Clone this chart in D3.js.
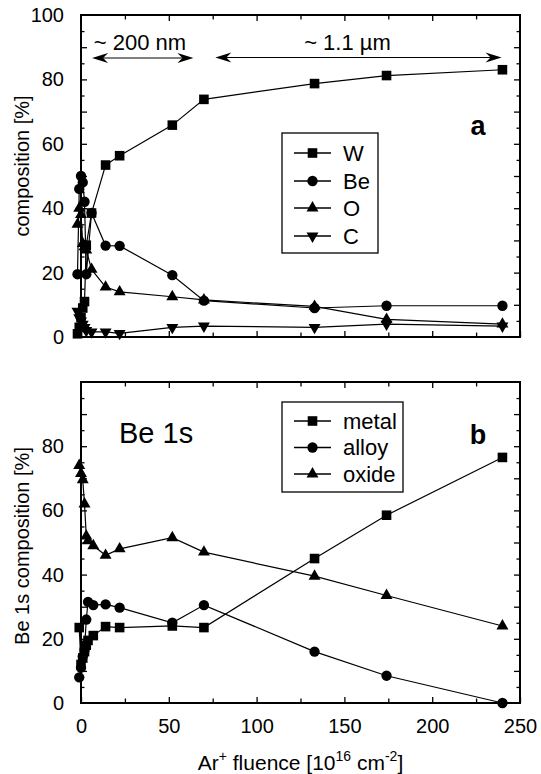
<!DOCTYPE html>
<html><head><meta charset="utf-8">
<script src="https://cdn.jsdelivr.net/npm/d3@7"></script>
<style>
body{margin:0;background:#fff}
text{font-family:"Liberation Sans",Arial,Helvetica,sans-serif;fill:#000}
</style>
</head><body>
<svg id="c" width="541" height="774"></svg>
<script>
// ---------- data ----------
const fluenceA = [-2, -1, 0, 1, 2, 3, 6, 14, 22, 52, 70, 133, 174, 240];
const W  = [1, 3, 6, 9, 11, 28.5, 38.5, 53.4, 56.3, 65.8, 73.8, 78.7, 81.2, 83];
const Be = [19.5, 46, 50, 48, 42, 19.5, 38.5, 28.4, 28.3, 19.2, 11.3, 9, 9.7, 9.7];
const O  = [35, 40, 38, 29, 28, 27, 21, 15.5, 14, 12.5, 11.5, 9.5, 5.5, 4];
const C  = [8, 6, 5, 4, 3, 2, 1.6, 1.6, 1.1, 3, 3.4, 3, 4, 3.4];

const fluenceB = [-1, 0, 1, 2, 3, 4, 7, 14, 22, 52, 70, 133, 174, 240];
const metal = [23.5, 12, 14, 16, 18, 19.5, 21, 23.8, 23.5, 24, 23.5, 45, 58.5, 76.5];
const alloy = [8, 11, 14.5, 16.5, 26, 31.5, 30.5, 30.7, 29.7, 25, 30.5, 16, 8.5, 0];
const oxide = [74, 71.5, 69.5, 62, 52, 50.5, 49, 46, 48, 51.5, 47, 39.5, 33.5, 24];

const xTicksMajor = [0, 50, 100, 150, 200, 250];
const xTicksMinor = [25, 75, 125, 175, 225];
const yLabelsA = [0, 20, 40, 60, 80, 100];
const yLabelsB = [0, 20, 40, 60, 80];
const legendA = ["W", "Be", "O", "C"];
const legendB = ["metal", "alloy", "oxide"];

// ---------- layout ----------
const svg = d3.select("#c");
const X0 = 81, X1 = 520;
const x = d3.scaleLinear().domain([0, 250]).range([X0, X1]);
const yA = d3.scaleLinear().domain([0, 100]).range([337, 15]);
const yB = d3.scaleLinear().domain([0, 100]).range([703, 382]);
const FONT = '"Liberation Sans",Arial,Helvetica,sans-serif';

const sym = {
  square: d3.symbol().type(d3.symbolSquare).size(92),
  circle: d3.symbol().type(d3.symbolCircle).size(84),
  tri: d3.symbol().type(d3.symbolTriangle).size(62),
};
function drawMarker(g, kind, cx, cy) {
  if (kind === "down") {
    g.append("path").attr("d", sym.tri()).attr("transform", `translate(${cx},${cy}) rotate(180)`).attr("fill", "#000");
  } else {
    const s = kind === "up" ? sym.tri : sym[kind];
    g.append("path").attr("d", s()).attr("transform", `translate(${cx},${cy})`).attr("fill", "#000");
  }
}

function panel(y, yLabels, showXLabels) {
  const g = svg.append("g");
  const [yb, yt] = y.range();
  const addX = (pos, axisFn, vals, len, labels) => {
    const a = axisFn(x).tickValues(vals).tickSize(-len).tickPadding(16)
      .tickFormat(labels ? d3.format("d") : "");
    const gg = g.append("g").attr("transform", `translate(0,${pos})`).call(a);
    gg.select(".domain").remove();
    gg.selectAll("line").attr("stroke", "#000").attr("stroke-width", 1.3);
    gg.selectAll("text").attr("font-size", 20).style("font-family", FONT);
  };
  addX(yb, d3.axisBottom, xTicksMajor, 6, showXLabels);
  addX(yb, d3.axisBottom, xTicksMinor, 4.5, false);
  addX(yt, d3.axisTop, xTicksMajor.slice(1, -1), 6, false);
  addX(yt, d3.axisTop, xTicksMinor, 4.5, false);
  const yMajor = d3.range(10, 100, 10);
  const yMinor = d3.range(5, 100, 10);
  const addY = (pos, axisFn, vals, len, labels) => {
    const a = axisFn(y).tickValues(vals).tickSize(-len).tickPadding(17)
      .tickFormat(labels ? d3.format("d") : "");
    const gg = g.append("g").attr("transform", `translate(${pos},0)`).call(a);
    gg.select(".domain").remove();
    gg.selectAll("line").attr("stroke", "#000").attr("stroke-width", 1.3);
    gg.selectAll("text").attr("font-size", 20).style("font-family", FONT);
  };
  addY(X0, d3.axisLeft, yLabels, 0, true);
  addY(X0, d3.axisLeft, yMajor, 6, false);
  addY(X0, d3.axisLeft, yMinor, 3.5, false);
  addY(X1, d3.axisRight, yMajor, 6, false);
  addY(X1, d3.axisRight, yMinor, 3.5, false);
  g.append("rect").attr("x", X0).attr("y", yt).attr("width", X1 - X0).attr("height", yb - yt)
    .attr("fill", "none").attr("stroke", "#000").attr("stroke-width", 2);
  return g;
}

function series(g, y, xs, ys, kind) {
  const line = d3.line().x((d, i) => x(xs[i])).y(d => y(d));
  g.append("path").datum(ys).attr("d", line).attr("fill", "none").attr("stroke", "#000").attr("stroke-width", 1.2);
  ys.forEach((v, i) => drawMarker(g, kind, x(xs[i]), y(v)));
}

function legend(g, bx, by, bw, bh, rowY, lineX0, lineX1, textX, labels, kinds, fs) {
  g.append("rect").attr("x", bx).attr("y", by).attr("width", bw).attr("height", bh)
    .attr("fill", "#fff").attr("stroke", "#000").attr("stroke-width", 1.3);
  labels.forEach((lab, i) => {
    const yy = rowY[i];
    g.append("line").attr("x1", lineX0).attr("x2", lineX1).attr("y1", yy).attr("y2", yy)
      .attr("stroke", "#000").attr("stroke-width", 1.3);
    drawMarker(g, kinds[i], (lineX0 + lineX1) / 2, yy);
    g.append("text").attr("x", textX).attr("y", yy).attr("dy", "0.36em").attr("font-size", fs).text(lab);
  });
}

function arrow(g, xa, xb, yy) {
  g.append("line").attr("x1", xa + 6).attr("x2", xb - 6).attr("y1", yy).attr("y2", yy)
    .attr("stroke", "#000").attr("stroke-width", 1.2);
  const head = (tip, dir) => {
    const p = d3.path();
    p.moveTo(tip, yy);
    p.lineTo(tip - dir * 16, yy - 5);
    p.lineTo(tip - dir * 11, yy);
    p.lineTo(tip - dir * 16, yy + 5);
    p.closePath();
    g.append("path").attr("d", p.toString()).attr("fill", "#000");
  };
  head(xa, -1);
  head(xb, 1);
}

// ---------- panel a ----------
const gA = panel(yA, yLabelsA, false);
series(gA, yA, fluenceA, C, "down");
series(gA, yA, fluenceA, O, "up");
series(gA, yA, fluenceA, Be, "circle");
series(gA, yA, fluenceA, W, "square");
legend(gA, 282, 133, 96, 120, [153, 181, 208, 236], 294, 331, 343, legendA,
  ["square", "circle", "up", "down"], 22);
gA.append("text").attr("x", 478).attr("y", 135).attr("text-anchor", "middle")
  .attr("font-size", 27).attr("font-weight", "bold").text("a");
arrow(gA, x(6.3), x(64), 58);
arrow(gA, x(76.5), x(239.5), 57.5);
gA.append("text").attr("x", 140).attr("y", 50).attr("text-anchor", "middle").attr("font-size", 22).text("~ 200 nm");
gA.append("text").attr("x", 347.5).attr("y", 50).attr("text-anchor", "middle").attr("font-size", 22).text("~ 1.1 µm");
svg.append("text").attr("transform", `translate(29,166) rotate(-90)`)
  .attr("text-anchor", "middle").attr("font-size", 20).text("composition [%]");

// ---------- panel b ----------
const gB = panel(yB, yLabelsB, true);
series(gB, yB, fluenceB, alloy, "circle");
series(gB, yB, fluenceB, metal, "square");
series(gB, yB, fluenceB, oxide, "up");
legend(gB, 282, 402, 121, 90, [421, 447.5, 474], 294, 331, 343, legendB,
  ["square", "circle", "up"], 22);
gB.append("text").attr("x", 478).attr("y", 444).attr("text-anchor", "middle")
  .attr("font-size", 27).attr("font-weight", "bold").text("b");
gB.append("text").attr("x", 119).attr("y", 443).attr("font-size", 29).text("Be 1s");
svg.append("text").attr("transform", `translate(29,546) rotate(-90)`)
  .attr("text-anchor", "middle").attr("font-size", 20).text("Be 1s composition [%]");

const xt = svg.append("text").attr("x", (X0 + X1) / 2).attr("y", 770).attr("text-anchor", "middle").attr("font-size", 21);
xt.append("tspan").text("Ar");
xt.append("tspan").attr("dy", -9).attr("font-size", 14).text("+");
xt.append("tspan").attr("dy", 9).text(" fluence [10");
xt.append("tspan").attr("dy", -9).attr("font-size", 14).text("16");
xt.append("tspan").attr("dy", 9).text(" cm");
xt.append("tspan").attr("dy", -9).attr("font-size", 14).text("-2");
xt.append("tspan").attr("dy", 9).text("]");
</script>
</body></html>
